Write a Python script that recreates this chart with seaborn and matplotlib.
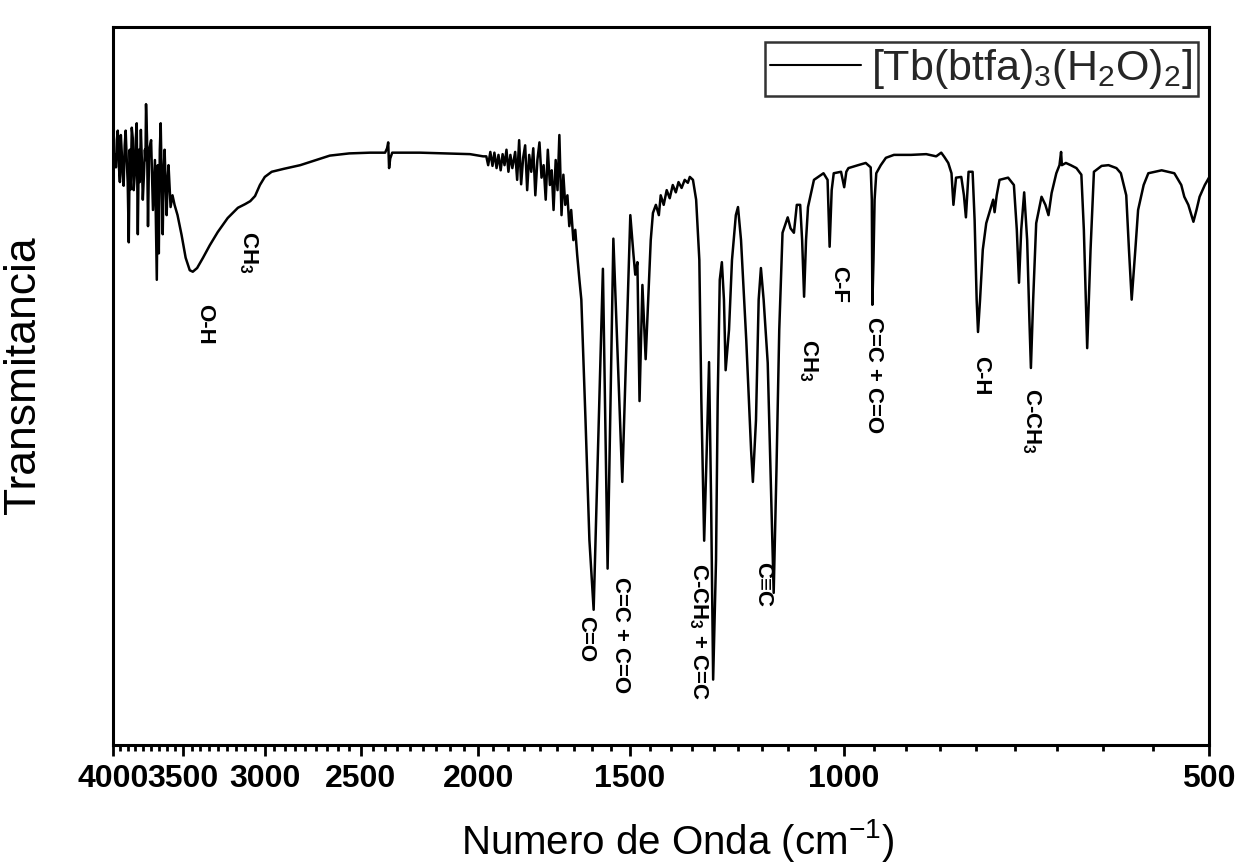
import numpy as np
import pandas as pd
import matplotlib
matplotlib.use("Agg")
import matplotlib.pyplot as plt
import seaborn as sns
from matplotlib.ticker import FixedLocator, FixedFormatter, NullFormatter

# ---- data ----
wavenumber = [
    3998, 3990, 3985, 3978, 3971, 3964, 3956, 3948, 3941, 3934, 3927, 3920, 3912, 3905,
    3897, 3890, 3882, 3875, 3868, 3860, 3853, 3846, 3838, 3831, 3824, 3816, 3809, 3802,
    3794, 3787, 3780, 3772, 3765, 3761, 3757, 3750, 3743, 3739, 3735,
    3721, 3708, 3694, 3681, 3674, 3667, 3660, 3654, 3640, 3633, 3627, 3613, 3606, 3600,
    3586, 3573, 3559, 3539, 3512, 3485, 3458, 3438, 3410,
    3372, 3329, 3279, 3218, 3156, 3113,
    3083, 3055, 3027, 2999, 2960, 2893,
    2804, 2733, 2651, 2555,
    2456, 2387, 2378, 2373, 2369, 2364, 2355,
    2234, 2133,
    2032, 1982, 1970, 1963, 1955, 1947, 1940, 1932, 1925,
    1917, 1910, 1903, 1896, 1889, 1882, 1875, 1865, 1858, 1851, 1844, 1837, 1830, 1823,
    1816, 1809, 1802, 1795, 1788, 1781, 1774, 1767, 1760, 1753, 1746,
    1740, 1734, 1727, 1721, 1715, 1708, 1702, 1696, 1689, 1683, 1677, 1670, 1664, 1658,
    1651, 1645, 1632, 1620, 1607,
    1579, 1565, 1548, 1522, 1499, 1490, 1485, 1479, 1473, 1465, 1456, 1442,
    1436, 1428, 1420, 1415, 1407, 1399, 1391, 1383, 1375, 1368, 1360, 1352, 1344, 1339,
    1331, 1323, 1315,
    1310, 1303, 1296, 1291, 1286, 1281, 1274, 1270, 1265, 1260, 1255, 1251, 1243, 1236,
    1227, 1222, 1215, 1203,
    1192, 1188, 1181, 1175, 1170, 1164, 1155, 1149, 1142, 1136, 1130, 1123, 1112, 1106,
    1099, 1093, 1086,
    1082, 1078, 1074, 1070, 1058, 1039, 1031, 1027, 1023, 1019, 1005, 999, 995, 991,
    973, 959, 950, 948, 947, 945, 943, 940, 932, 923, 909,
    880, 855, 839, 831, 826, 820,
    815, 812, 808, 800, 796, 793, 789, 783, 780, 777, 775, 772, 768, 763, 753, 751, 748, 744,
    732, 724, 720, 717, 714, 710, 706, 703, 701, 698, 694, 687, 682, 678,
    674, 668, 664, 662, 661, 656, 650, 643, 637, 634, 630, 626, 622,
    613, 605, 596, 591, 585, 582, 579, 575, 572, 566, 561,
    547, 534, 527, 524, 520, 515, 512, 509, 504, 500,
]
transmittance = [
    80.5, 80.0, 80.8, 79.0, 82.7, 84.0, 79.3, 77.0, 83.4, 81.0, 78.0, 76.5, 82.0, 84.0,
    80.0, 77.0, 68.8, 81.4, 76.0, 84.4, 83.0, 75.9, 78.0, 82.7, 85.0, 69.9, 81.4, 77.0,
    84.1, 80.0, 74.6, 78.0, 81.4, 80.0, 87.6, 83.0, 71.0, 76.0, 81.4,
    82.7, 73.2, 80.0, 63.7, 79.3, 67.3, 81.4, 85.0, 69.9, 78.6, 81.4, 72.5, 77.3, 79.3,
    73.6, 75.2, 73.9, 72.5, 69.8, 66.7, 65.0, 64.8, 65.3,
    66.7, 68.4, 70.2, 72.1, 73.5, 74.0,
    74.4, 75.1, 76.6, 77.7, 78.4, 78.8,
    79.3, 79.9, 80.6, 80.9,
    81.0, 81.0, 81.6, 82.4, 78.9, 80.2, 81.0,
    81.0, 80.9,
    80.8, 80.5, 80.5, 79.3, 81.1, 79.2, 81.0, 78.9, 80.7,
    78.6, 80.8, 79.3, 81.4, 78.4, 80.7, 78.9, 81.1, 77.3, 82.7, 76.7, 80.3, 82.0, 75.9,
    80.7, 78.4, 81.6, 75.2, 80.0, 82.4, 77.6, 79.3, 74.6, 81.4, 76.6,
    78.6, 73.2, 80.0, 75.9, 83.4, 72.5, 78.0, 73.9, 75.2, 71.0, 73.2, 69.1, 70.5, 67.1,
    63.7, 61.0, 44.6, 28.3, 18.8,
    65.2, 24.4, 69.3, 36.2, 72.5, 67.1, 64.4, 66.1, 47.2, 63.0, 52.9, 69.1,
    72.8, 73.9, 72.5, 75.2, 73.9, 75.9, 74.8, 76.6, 75.6, 77.0, 76.2, 77.3, 76.9, 77.7,
    77.3, 74.6, 66.4,
    47.3, 28.2, 41.9, 52.5, 33.7, 9.3, 25.6, 47.3, 63.7, 66.1, 61.0, 51.4, 56.9, 66.4,
    72.5, 73.6, 69.1, 55.5,
    40.5, 36.2, 44.6, 61.0, 65.3, 61.0, 52.4, 37.8, 21.1, 37.8, 56.9, 70.1, 72.2, 70.7,
    70.1, 73.9, 73.9,
    69.1, 61.4, 69.1, 73.6, 77.3, 78.2, 77.3, 68.2, 75.9, 78.2, 78.4, 76.3, 78.4, 78.9,
    79.3, 79.6, 79.0, 74.6, 60.3, 66.4, 74.6, 78.2, 79.3, 80.3, 80.7,
    80.7, 80.8, 80.5, 81.0, 80.4, 79.6,
    78.2, 73.9, 77.6, 77.7, 75.2, 72.2, 78.4, 78.4, 71.8, 61.0, 56.6, 61.0, 67.8, 71.4,
    74.6, 72.9, 75.2, 77.3,
    77.6, 76.6, 70.5, 63.3, 70.5, 75.6, 69.1, 58.2, 51.7, 61.0, 71.4, 75.0, 73.9, 72.5,
    75.5, 78.2, 79.3, 81.1, 79.3, 79.6, 79.3, 78.9, 78.0, 70.5, 54.4, 67.8, 78.4,
    79.2, 79.3, 78.9, 78.2, 75.2, 67.8, 61.0, 67.8, 73.2, 76.6, 78.2,
    78.6, 78.2, 76.6, 75.0, 73.9, 71.6, 73.2, 75.0, 76.6, 77.6,
]

tick_values = [4000, 3500, 3000, 2500, 2000, 1500, 1000, 500]
tick_labels = ["4000", "3500", "3000", "2500", "2000", "1500", "1000", "500"]

band_labels = ["O-H", r"CH$_\mathbf{3}$", "C=O", "C=C + C=O", r"C-CH$_\mathbf{3}$ + C=C",
               "C≡C", r"CH$_\mathbf{3}$", "C-F", "C=C + C=O", "C-H", r"C-CH$_\mathbf{3}$"]
band_x = [3359, 3095, 1632, 1528, 1318, 1166, 1070, 1009, 945, 771, 701]
band_y = [57.6, 67.5, 14.8, 15.4, 15.9, 22.2, 52.8, 63.1, 50.7, 50.7, 44.5]

series_name = r"[Tb(btfa)$_3$(H$_2$O)$_2$]"

# ---- style ----
sns.set_theme(style="white")
plt.rcParams['font.family'] = ['Liberation Sans', 'DejaVu Sans']
plt.rcParams['mathtext.fontset'] = 'custom'
plt.rcParams['mathtext.rm'] = 'Liberation Sans'
plt.rcParams['mathtext.it'] = 'Liberation Sans:italic'
plt.rcParams['mathtext.bf'] = 'Liberation Sans:bold'

W, H = 1236, 868
L, R, T, B = 113, 1209, 27, 745
fig = plt.figure(figsize=(W / 100, H / 100), dpi=100)
ax = fig.add_axes([L / W, 1 - B / H, (R - L) / W, (B - T) / H])

df = pd.DataFrame({"Numero de Onda": wavenumber, "Transmitancia": transmittance})
sns.lineplot(data=df, x="Numero de Onda", y="Transmitancia", ax=ax, color="black",
             linewidth=1.8, estimator=None, sort=False, label=series_name)

ax.set_xscale("log")
ax.set_xlim(4000, 500)
ax.set_ylim(0.4, 98.1)

ax.xaxis.set_major_locator(FixedLocator(tick_values))
ax.xaxis.set_major_formatter(FixedFormatter(tick_labels))
minor = []
for a, b in zip(tick_values[:-1], tick_values[1:]):
    minor += list(np.linspace(a, b, 10)[1:-1])
ax.xaxis.set_minor_locator(FixedLocator(minor))
ax.xaxis.set_minor_formatter(NullFormatter())
ax.set_yticks([])

ax.tick_params(axis="x", which="major", direction="out", length=8, width=2,
               labelsize=23, bottom=True, top=False, pad=6, colors="black")
ax.tick_params(axis="x", which="minor", direction="out", length=4, width=2,
               bottom=True, top=False, colors="black")
for lbl in ax.get_xticklabels():
    lbl.set_fontweight("bold")

for s in ax.spines.values():
    s.set_linewidth(2.2)
    s.set_color("black")

ax.set_xlabel("Numero de Onda (cm$^{-1}$)", fontsize=29, labelpad=16, color="black")
ax.xaxis.label.set_x(0.515)
ax.set_ylabel("Transmitancia", fontsize=32, color="black")
ax.yaxis.set_label_coords(-0.063, 0.515)

for txt, xv, yv in zip(band_labels, band_x, band_y):
    ax.text(xv, yv, txt, rotation=270, ha="center", va="center", fontsize=16,
            fontweight="bold", color="black")

leg = ax.legend(loc="upper right", bbox_to_anchor=((1198 - L) / (R - L), (B - 42) / (B - T)),
                fontsize=31, frameon=True, fancybox=False, edgecolor="black",
                handlelength=2.1, handletextpad=0.25, borderpad=0.12, borderaxespad=0)
leg.get_frame().set_linewidth(1.8)
for line in leg.get_lines():
    line.set_linewidth(1.5)

fig.savefig("out.png", dpi=100)
